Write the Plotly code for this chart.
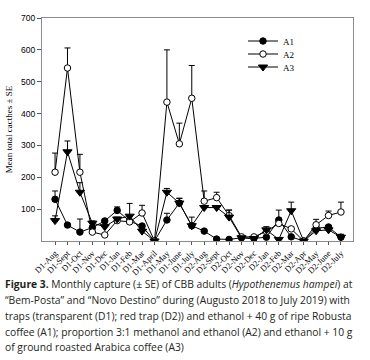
import plotly.graph_objects as go

categories = ["D1-Aug", "D1-Sept", "D1-Oct", "D1-Nov", "D1-Dec", "D1-Jan", "D1-Feb",
              "D1-Mar", "D1-April", "D1-May", "D1-June", "D1-July", "D2-Aug", "D2-Sept",
              "D2-Oct", "D2-Nov", "D2-Dec", "D2-Jan", "D2-Feb", "D2-Mar", "D2-Apr",
              "D2-May", "D2-June", "D2-July"]

a1 = [131, 50, 28, 42, 63, 96, 62, 47, 0, 66, 119, 48, 31, 6, 5, 10, 8, 12, 66, 13, 0, 40, 44, 12]
a1_se = [26, 4, 41, 5, 5, 11, 5, 5, 0, 21, 15, 5, 4, 2, 2, 3, 3, 3, 31, 3, 0, 5, 5, 3]

a2 = [216, 543, 216, 28, 19, 64, 60, 88, 0, 436, 305, 448, 125, 136, 80, 13, 13, 30, 55, 38, 0, 51, 80, 91]
a2_se = [60, 63, 56, 4, 3, 5, 5, 24, 0, 164, 65, 103, 32, 17, 17, 3, 3, 5, 5, 5, 0, 17, 14, 31]

a3 = [64, 280, 153, 56, 45, 69, 78, 31, 0, 153, 119, 48, 105, 105, 75, 10, 8, 35, 5, 95, 0, 32, 35, 12]
a3_se = [15, 34, 30, 7, 5, 6, 40, 5, 0, 12, 15, 27, 5, 5, 22, 3, 3, 10, 2, 27, 0, 5, 12, 9]

y_ticks = [100, 200, 300, 400, 500, 600, 700]

caption_lines = [
    "<b>Figure 3.</b> Monthly capture (± SE) of CBB adults (<i>Hypothenemus hampei</i>) at",
    "“Bem-Posta” and “Novo Destino” during (Augusto 2018 to July 2019) with",
    "traps (transparent (D1); red trap (D2)) and ethanol + 40 g of ripe Robusta",
    "coffee (A1); proportion 3:1 methanol and ethanol (A2) and ethanol + 10 g",
    "of ground roasted Arabica coffee (A3)",
]

W, H = 370, 360
L, R, T, B = 42, 17, 18, 119
pw, ph = W - L - R, H - T - B

fig = go.Figure()

legend_rows = [41, 54, 67]
series = [
    ("A1", a1, a1_se, dict(symbol="circle", size=6.5, color="black", line=dict(color="black", width=1))),
    ("A2", a2, a2_se, dict(symbol="circle", size=6.5, color="white", line=dict(color="black", width=1))),
    ("A3", a3, a3_se, dict(symbol="triangle-down", size=8, color="black", line=dict(color="black", width=1))),
]
legend_ids = ["legend", "legend2", "legend3"]
for (name, vals, se, mk), lid in zip(series, legend_ids):
    fig.add_trace(go.Scatter(
        x=categories, y=vals, name=name, mode="lines+markers",
        line=dict(color="black", width=1),
        marker=mk, legend=lid,
        error_y=dict(type="data", array=se, arrayminus=[0] * len(se), symmetric=False,
                     color="black", thickness=1, width=3),
    ))

annotations = []
line_y = [284, 300, 316, 332, 347]
for txt, yy in zip(caption_lines, line_y):
    annotations.append(dict(
        text=txt, xref="paper", yref="paper",
        x=(3 - L) / pw, y=(H - B - yy) / ph, xanchor="left", yanchor="middle",
        showarrow=False, align="left",
        font=dict(family="Open Sans", size=10.3, color="#231f20"),
    ))

legend_common = dict(xanchor="left", yanchor="middle",
                     font=dict(family="Liberation Serif", size=9, color="black"),
                     bgcolor="rgba(0,0,0,0)", itemwidth=30, tracegroupgap=0)
legend_layouts = {}
for lid, ry in zip(legend_ids, legend_rows):
    legend_layouts[lid] = dict(x=(243 - L) / pw, y=(H - B - ry) / ph, **legend_common)

fig.update_layout(
    width=W, height=H,
    margin=dict(l=L, r=R, t=T, b=B, autoexpand=False),
    paper_bgcolor="white", plot_bgcolor="white",
    showlegend=True,
    annotations=annotations,
    xaxis=dict(
        type="category", range=[-1.05, 23.97],
        showline=True, linecolor="#8c8c8c", linewidth=1, mirror=True,
        ticks="outside", ticklen=3, tickcolor="#555", tickangle=-45,
        tickfont=dict(family="Liberation Serif", size=8.5, color="black"),
        showgrid=False, zeroline=False,
    ),
    yaxis=dict(
        range=[0, 700], tickvals=y_ticks,
        showline=True, linecolor="#8c8c8c", linewidth=1, mirror=True,
        ticks="outside", ticklen=4, tickcolor="#555",
        tickfont=dict(family="Liberation Sans", size=8.5, color="black"),
        showgrid=False, zeroline=False,
        title=dict(text="Mean total cacthes ± SE", standoff=6,
                   font=dict(family="Liberation Serif", size=9, color="black")),
    ),
    **legend_layouts,
)

fig.write_html("out.html", config={"displayModeBar": False},
               post_script="document.body.style.margin='0';document.body.style.padding='0';")
